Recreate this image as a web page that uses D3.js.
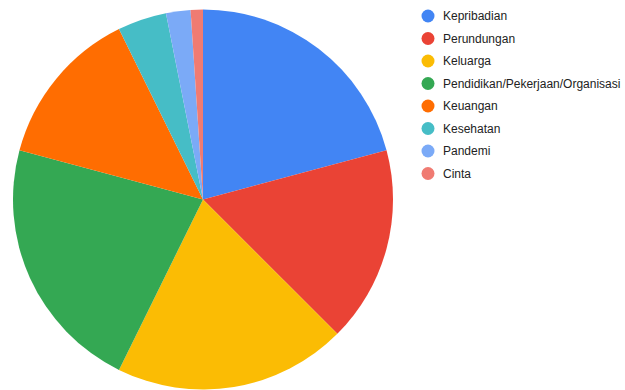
<!DOCTYPE html>
<html>
<head>
<meta charset="utf-8">
<script src="https://cdn.jsdelivr.net/npm/d3@7"></script>
<style>
  body { margin: 0; background: #fff; }
  svg { display: block; }
</style>
</head>
<body>
<svg id="pie"></svg>
<script>
var categories = ["Kepribadian", "Perundungan", "Keluarga", "Pendidikan/Pekerjaan/Organisasi",
                  "Keuangan", "Kesehatan", "Pandemi", "Cinta"]
var counts = [20, 16, 19, 21, 13, 4, 2, 1]
var colors = ["#4285f4", "#ea4335", "#fbbc04", "#34a853", "#ff6d01", "#46bdc6", "#7baaf7", "#f07b72"]

var dimensions = {
    width: 625,
    height: 390,
    cx: 203,
    cy: 199.5,
    radius: 190
}

var svg = d3.select("#pie")
            .attr("width", dimensions.width)
            .attr("height", dimensions.height)

var dataset = categories.map((c, i) => ({ name: c, value: counts[i] }))

var colorScale = d3.scaleOrdinal()
                   .domain(categories)
                   .range(colors)

var pie = d3.pie().value(d => d.value).sort(null)
var arc = d3.arc().innerRadius(0).outerRadius(dimensions.radius)

svg.append("g")
   .attr("transform", "translate(" + dimensions.cx + "," + dimensions.cy + ")")
   .selectAll("path")
   .data(pie(dataset))
   .enter()
   .append("path")
   .attr("d", arc)
   .attr("fill", d => colorScale(d.data.name))

// legend
var legendY = d3.scalePoint()
                .domain(categories)
                .range([16, 16 + 22.5 * (categories.length - 1)])

var legend = svg.append("g")
                .selectAll("g")
                .data(categories)
                .enter()
                .append("g")
                .attr("transform", d => "translate(428," + legendY(d) + ")")

legend.append("circle")
      .attr("r", 6.5)
      .attr("fill", d => colorScale(d))

legend.append("text")
      .attr("x", 15)
      .attr("dy", "0.35em")
      .style("font-family", "Arial, 'Liberation Sans', sans-serif")
      .style("font-size", "12px")
      .style("fill", "#222")
      .text(d => d)
</script>
</body>
</html>
